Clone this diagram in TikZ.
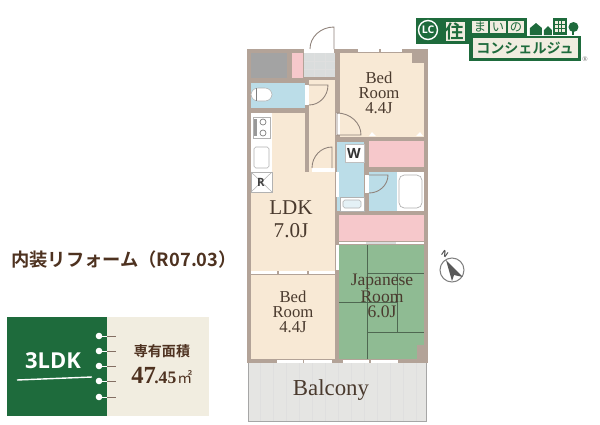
\documentclass[tikz,border=0pt]{standalone}
\usepackage{fontspec}
\setmainfont{Liberation Serif}
\newfontfamily\jpfont{Noto Sans CJK JP}
\newfontfamily\jpbold{Noto Sans CJK JP Bold}
\newfontfamily\sansfont{Open Sans}
\definecolor{wallc}{HTML}{B3A398}
\definecolor{woodc}{HTML}{F8E9D5}
\definecolor{pinkc}{HTML}{F6C8CB}
\definecolor{bluec}{HTML}{BBDDE8}
\definecolor{tatamic}{HTML}{8FBB93}
\definecolor{tilec}{HTML}{DADDDD}
\definecolor{balc}{HTML}{E5E5E3}
\definecolor{storec}{HTML}{A3A3A3}
\definecolor{darkgreen}{HTML}{1E6B3C}
\definecolor{creamc}{HTML}{F1EDE0}
\definecolor{textc}{HTML}{4A3A2E}
\definecolor{inkc}{HTML}{4E3220}
\tikzset{
  doorline/.style={draw=wallc!80!black,line width=0.5pt},
  roomlabel/.style={text=textc,align=center,font=\fontsize{9.5}{8.5}\selectfont},
  gridline/.style={draw=gray!25,line width=0.2pt},
  matline/.style={draw=black!45!tatamic,line width=0.4pt},
  logotext/.style={text=darkgreen,font=\jpfont\fontsize{7}{7}\selectfont,inner sep=0pt},
}
\begin{document}
\begin{tikzpicture}[x=0.02cm,y=-0.02cm]
\useasboundingbox (0,0) rectangle (600,424);
\fill [white] (0,0) rectangle (600,424);

% balcony
\fill [balc] (248,363) rectangle (426,421);
\draw [gridline] (248,363) grid [xstep=13,ystep=10] (426,421);
\draw [draw=gray!70,line width=0.5pt] (248,363) -- (248,421) -- (426,421) -- (426,363);

% walls
\fill [wallc] (247,49) rectangle (428,363);

% rooms
\fill [storec] (251,53) rectangle (287,78);
\fill [pinkc] (292,53) rectangle (303,78);
\fill [tilec] (304,53) rectangle (335,77);
\draw [gridline] (314,53) -- (314,77);
\draw [gridline] (325,53) -- (325,77);
\draw [gridline] (304,61) -- (335,61);
\draw [gridline] (304,69) -- (335,69);
\fill [bluec] (251,83) rectangle (305,108);
\fill [woodc] (309,80) rectangle (335,172);
\fill [woodc] (340,53) rectangle (424,137);
\fill [wallc] (412,49) rectangle (428,63);
\fill [woodc] (251,113) rectangle (305,172);
\fill [woodc] (251,172) rectangle (335,271);
\fill [white] (251,113) rectangle (272,172);
\fill [pinkc] (369,141) rectangle (424,167);
\fill [bluec] (337,142) rectangle (364,211);
\fill [bluec] (369,172) rectangle (397,211);
\fill [white] (397,172) rectangle (424,211);
\fill [pinkc] (339,215) rectangle (424,241);
\fill [tatamic] (339,245) rectangle (424,359);
\fill [wallc] (417,345) rectangle (428,363);
\fill [woodc] (251,275) rectangle (335,359);

% tatami lines
\draw [matline] (367,245) -- (367,359);
\draw [matline] (367,273) -- (424,273);
\draw [matline] (397,273) -- (397,332);
\draw [matline] (367,332) -- (424,332);
\draw [matline] (339,302) -- (397,302);

% windows and sliding doors
\fill [white] (358,49) rectangle (379,52);
\fill [white] (381,49) rectangle (402,52);
\fill [white] (277,360) rectangle (303,363);
\fill [white] (304,360) rectangle (332,363);
\fill [white] (343,360) rectangle (369,363);
\fill [white] (371,360) rectangle (398,363);
\fill [white] (251,271) rectangle (335,274);
\fill [wallc] (277,271) rectangle (279,274);
\fill [wallc] (307,271) rectangle (309,274);
\fill [white] (339,242) rectangle (366,244);
\fill [tilec] (366,242) rectangle (396,244);
\fill [white] (396,242) rectangle (424,244);
\fill [white] (336,245) rectangle (339,270);
\fill [white] (336,172) rectangle (339,197);

% door gaps
\fill [white] (305,85) rectangle (309,105);
\fill [white] (336,113) rectangle (340,135);
\fill [white] (312,168) rectangle (335,172);
\fill [white] (365,175) rectangle (369,193);
\fill [white] (304,49) rectangle (334,53);

% doors
\draw [doorline] (334,49) -- (334,27) arc (-90:-180:24 and 22);
\draw [doorline] (309,85) -- (328,85) arc (0:90:19 and 20);
\draw [doorline] (337,135) -- (337,113) arc (-90:0:24 and 22) -- cycle;
\draw [doorline] (332,168) -- (332,147) arc (-90:-180:20 and 21);
\draw [doorline] (369,175) -- (388,175) arc (0:90:19 and 18);

% fixtures
\draw [fill=white,draw=gray!60,rounded corners=4pt,line width=0.3pt] (251,88) rectangle (272,101);
\draw [gray,line width=0.3pt] (256,88) -- (256,101);
\draw [fill=white,draw=gray!60,line width=0.3pt] (253,117) rectangle (270,138);
\fill [gray!80] (254,119) rectangle (257,136);
\draw [gray,line width=0.4pt] (263,122) circle (3);
\draw [gray,line width=0.4pt] (263,133) circle (3);
\draw [fill=white,draw=gray!60,rounded corners=1pt,line width=0.3pt] (254,147) rectangle (269,168);
\fill [white] (251,172) rectangle (272,192);
\draw [gray!60,line width=0.3pt] (251,172) rectangle (272,192);
\draw [gray!60,line width=0.3pt] (251,172) -- (272,192);
\draw [gray!60,line width=0.3pt] (272,172) -- (251,192);
\draw [fill=white,draw=gray!50,line width=0.3pt] (345,144) rectangle (364,162);
\draw [fill=white,draw=gray!60,line width=0.3pt] (340,197) rectangle (364,211);
\draw [fill=bluec!40,draw=gray!60,rounded corners=1pt,line width=0.3pt] (343,200) rectangle (361,208);
\draw [fill=white,draw=gray!60,rounded corners=3pt,line width=0.4pt] (399,175) rectangle (422,208);
\fill [white] (369,136) -- (372,132) -- (376,136) -- cycle;
\fill [white] (416,136) -- (420,132) -- (423,136) -- cycle;

% room labels
\node [roomlabel] (bedtop) at (379,93) {Bed\\Room\\4.4J};
\node [roomlabel,font=\fontsize{12}{13}\selectfont] (ldk) at (291,219) {LDK\\7.0J};
\node [roomlabel] (bedlow) at (293,312) {Bed\\Room\\4.4J};
\node [roomlabel,font=\fontsize{10}{8.5}\selectfont] (japanese) at (382,296) {Japanese\\Room\\6.0J};
\node [roomlabel,font=\fontsize{13}{13}\selectfont] (balcony) at (331,390) {Balcony};
\node [font=\sansfont\bfseries\fontsize{6.5}{6.5}\selectfont,text=black!75,inner sep=0pt] (fridge) at (261,182) {R};
\node [font=\sansfont\bfseries\fontsize{8}{8}\selectfont,text=black!80,inner sep=0pt] (wcl) at (354,153) {W};

% compass
\draw [gray,line width=0.6pt] (452,270) circle (12);
\fill [black!65] (446,260) -- (463,277) -- (454,275) -- (452,281) -- cycle;
\node [font=\sansfont\bfseries\fontsize{4.5}{4.5}\selectfont,text=black!70,inner sep=0pt,rotate=-35] (north) at (445,254) {N};

% left caption
\node [anchor=west,text=inkc,inner sep=0pt,font=\jpbold\fontsize{10.4}{11}\selectfont] (reform) at (11,260) {内装リフォーム（R07.03）};

% size panel
\fill [darkgreen] (7,317) rectangle (107,416);
\fill [creamc] (107,317) rectangle (209,416);
\node [text=white,font=\sansfont\bfseries\fontsize{12.5}{13}\selectfont,inner sep=0pt] (layout) at (53,361) {3LDK};
\draw [white,line width=0.8pt] (17,380) -- (92,377);
\draw [inkc!70,line width=0.4pt] (99,336) -- (116,336);
\draw [inkc!70,line width=0.4pt] (99,351) -- (116,351);
\draw [inkc!70,line width=0.4pt] (99,366) -- (116,366);
\draw [inkc!70,line width=0.4pt] (99,381) -- (116,381);
\draw [inkc!70,line width=0.4pt] (99,397) -- (116,397);
\draw [white,line width=0.4pt] (99,336) -- (107,336);
\draw [white,line width=0.4pt] (99,351) -- (107,351);
\draw [white,line width=0.4pt] (99,366) -- (107,366);
\draw [white,line width=0.4pt] (99,381) -- (107,381);
\draw [white,line width=0.4pt] (99,397) -- (107,397);
\fill [white] (99,336) circle (3.3);
\fill [white] (99,351) circle (3.3);
\fill [white] (99,366) circle (3.3);
\fill [white] (99,381) circle (3.3);
\fill [white] (99,397) circle (3.3);
\node [text=inkc,font=\jpbold\fontsize{8}{8}\selectfont,inner sep=0pt] (areaname) at (162,351) {専有面積};
\node [text=inkc,font=\bfseries\fontsize{14}{14}\selectfont,inner sep=0pt,anchor=base west] (areaval) at (131,383) {47};
\node [text=inkc,font=\bfseries\fontsize{10}{10}\selectfont,inner sep=0pt,anchor=base west] (areafrac) at (154,383) {.45};
\node [text=inkc,font=\jpfont\fontsize{8.5}{8.5}\selectfont,inner sep=0pt,anchor=base west] (areaunit) at (177,383) {㎡};

% logo
\fill [darkgreen] (416,18) rectangle (527,44);
\fill [darkgreen] (469,36) rectangle (581,61);
\fill [creamc] (446,22) rectangle (465,41);
\fill [creamc] (472,21) rectangle (488,33);
\fill [creamc] (490,21) rectangle (506,33);
\fill [creamc] (508,21) rectangle (524,33);
\fill [creamc] (473,38) rectangle (578,58);
\draw [white,line width=0.8pt] (428,30) circle (9.5);
\node [text=white,font=\sansfont\bfseries\fontsize{6}{6}\selectfont,inner sep=0pt] (lcmark) at (428,30) {LC};
\node [logotext,font=\jpbold\fontsize{10.5}{11}\selectfont] (sumai) at (455,31) {住};
\node [logotext] (ma) at (480,27) {ま};
\node [logotext] (i) at (498,27) {い};
\node [logotext] (no) at (516,27) {の};
\node [logotext,font=\jpbold\fontsize{8}{9}\selectfont] (concierge) at (525,48) {コンシェルジュ};
% houses
\fill [darkgreen] (530,35) -- (530,28) -- (536,23) -- (542,28) -- (542,35) -- cycle;
\fill [darkgreen] (544,35) -- (544,30) -- (548,26) -- (552,30) -- (552,35) -- cycle;
\fill [darkgreen] (553,35) rectangle (567,18);
\fill [creamc] (555,21) rectangle (558,24);
\fill [creamc] (559,21) rectangle (561,24);
\fill [creamc] (562,21) rectangle (565,24);
\fill [creamc] (555,25) rectangle (558,28);
\fill [creamc] (559,25) rectangle (561,28);
\fill [creamc] (562,25) rectangle (565,28);
\fill [creamc] (555,29) rectangle (558,32);
\fill [creamc] (559,29) rectangle (561,32);
\fill [creamc] (562,29) rectangle (565,32);
\fill [darkgreen] (573.5,27) circle (5);
\fill [darkgreen] (572.5,30) rectangle (574.5,35);
\node [text=black!60,font=\fontsize{4}{4}\selectfont,inner sep=0pt] (regmark) at (585,59) {®};

\end{tikzpicture}
\end{document}
